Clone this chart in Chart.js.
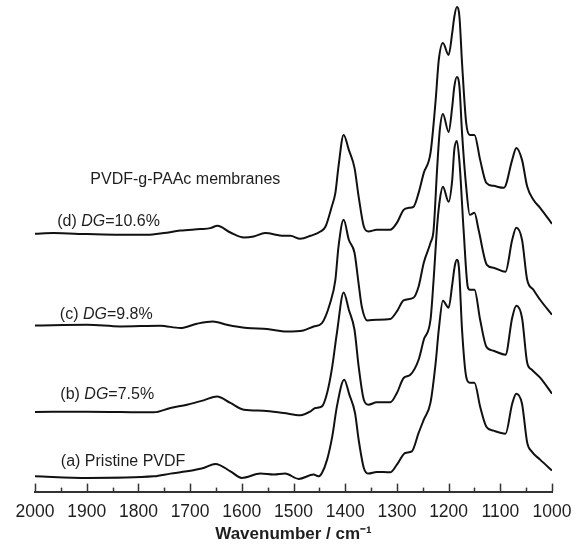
<!DOCTYPE html>
<html>
<head>
<meta charset="utf-8">
<style>
  html, body { margin: 0; padding: 0; background: #ffffff; }
  #wrap { width: 584px; height: 545px; }
</style>
<script src="https://cdn.jsdelivr.net/npm/chart.js@4.4.1/dist/chart.umd.min.js"></script>
</head>
<body>
<div id="wrap"><canvas id="c" width="584" height="545"></canvas></div>
<script>
// ---- Data (wavenumber in cm^-1, absorbance as plotted with vertical offsets, a.u.) ----
const seriesNames = ['(d) DG=10.6%', '(c) DG=9.8%', '(b) DG=7.5%', '(a) Pristine PVDF'];

const waveD = [2000,1964,1899,1835,1783,1751,1719,1680,1661,1647,1622,1596,1577,1555,1519,1506,1487,1467,1448,1438,1426,1419,1413,1403,1393,1382,1374,1364,1355,1339,1313,1300,1287,1277,1268,1258,1248,1235,1225,1219,1211,1200,1193,1189,1184,1179,1174,1166,1159,1150,1139,1127,1113,1093,1077,1069,1058,1048,1036,1023,1000];
const absD  = [2.58,2.587,2.577,2.57,2.57,2.587,2.613,2.627,2.637,2.66,2.593,2.543,2.553,2.587,2.56,2.56,2.53,2.56,2.603,2.653,2.853,2.99,3.253,3.57,3.42,3.24,2.953,2.653,2.603,2.62,2.62,2.69,2.82,2.84,2.85,2.99,3.19,3.39,3.92,4.32,4.49,4.37,4.59,4.75,4.85,4.75,4.29,3.69,3.57,3.57,3.32,3.09,3.06,3.04,3.32,3.44,3.32,3.053,2.92,2.84,2.68];

const waveC = [2000,1899,1835,1758,1719,1687,1656,1629,1590,1551,1513,1481,1461,1445,1429,1419,1413,1403,1393,1382,1375,1368,1357,1339,1313,1300,1287,1268,1258,1248,1235,1229,1222,1217,1211,1200,1193,1189,1184,1179,1174,1166,1159,1150,1142,1126,1113,1090,1077,1069,1058,1048,1036,1023,1000];
const absC  = [1.663,1.67,1.653,1.66,1.637,1.68,1.703,1.67,1.637,1.627,1.603,1.613,1.653,1.687,1.89,2.12,2.45,2.72,2.52,2.39,2.12,1.853,1.713,1.72,1.727,1.803,1.913,1.94,2.053,2.29,2.49,2.62,3.25,3.62,3.78,3.60,3.85,4.05,4.15,4.05,3.59,3.05,2.77,2.79,2.62,2.27,2.24,2.20,2.52,2.64,2.52,2.12,2.02,1.92,1.77];

const waveB = [2000,1899,1770,1738,1706,1674,1648,1622,1596,1558,1519,1487,1467,1458,1445,1435,1426,1416,1403,1393,1382,1374,1364,1355,1339,1313,1300,1287,1274,1258,1248,1235,1229,1222,1217,1211,1200,1193,1189,1184,1179,1171,1163,1159,1150,1139,1127,1113,1090,1077,1069,1058,1048,1039,1023,1000];
const absB  = [0.797,0.80,0.793,0.837,0.87,0.913,0.953,0.887,0.82,0.81,0.787,0.765,0.803,0.837,0.853,0.987,1.22,1.59,1.993,1.82,1.62,1.253,0.92,0.87,0.893,0.893,0.987,1.137,1.17,1.32,1.52,1.72,2.12,2.67,2.92,3.05,2.90,3.12,3.42,3.51,3.30,2.62,2.05,2.02,2.02,1.72,1.45,1.41,1.37,1.74,1.86,1.74,1.29,1.22,1.14,0.98];

const waveA = [2000,1899,1770,1738,1706,1674,1651,1622,1600,1564,1538,1516,1490,1461,1452,1445,1435,1425,1416,1402,1392,1381,1374,1364,1355,1339,1313,1300,1284,1271,1258,1248,1235,1225,1219,1211,1200,1193,1188,1184,1180,1174,1166,1159,1150,1139,1127,1113,1090,1077,1069,1058,1048,1039,1023,1000];
const absA  = [0.153,0.137,0.153,0.18,0.203,0.237,0.277,0.203,0.137,0.18,0.17,0.18,0.127,0.17,0.153,0.187,0.32,0.553,0.853,1.12,0.97,0.787,0.52,0.237,0.18,0.197,0.193,0.27,0.387,0.403,0.587,0.72,0.89,1.29,1.62,1.91,1.84,2.07,2.26,2.32,2.24,1.62,1.15,1.09,1.09,0.85,0.65,0.61,0.58,0.88,0.98,0.88,0.49,0.40,0.32,0.21];

const xTicks = [2000,1900,1800,1700,1600,1500,1400,1300,1200,1100,1000];
const xTitle = 'Wavenumber / cm\u207B\u00B9';
const headerText = 'PVDF-g-PAAc membranes';

// label anchors (wavenumber, absorbance) for annotation text
const labelWave = [1957, 1952, 1951, 1950];
const labelAbs  = [2.70, 1.775, 0.97, 0.297];
const headerWave = 1893, headerAbs = 3.12;

function pts(w, a) { return w.map((x, i) => ({ x: x, y: a[i] })); }

const FONT = '"Liberation Sans", Arial, Helvetica, sans-serif';

const annotPlugin = {
  id: 'annot',
  afterDraw(chart) {
    const ctx = chart.ctx;
    const xs = chart.scales.x, ys = chart.scales.y;
    // inward tick marks on x axis
    const yAxis = chart.chartArea.bottom;
    ctx.save();
    ctx.strokeStyle = '#333';
    ctx.lineWidth = 1.5;
    for (let v = 1000; v <= 2000; v += 50) {
      const px = Math.round(xs.getPixelForValue(v)) + 0.5;
      const len = (v % 100 === 0) ? 8 : 4;
      ctx.beginPath();
      ctx.moveTo(px, yAxis);
      ctx.lineTo(px, yAxis - len);
      ctx.stroke();
    }
    ctx.restore();

    // text labels
    ctx.save();
    ctx.fillStyle = '#1e1e1e';
    ctx.textBaseline = 'middle';
    ctx.textAlign = 'left';
    const normal = '16px ' + FONT, italic = 'italic 16px ' + FONT;
    seriesNames.forEach((name, i) => {
      let x = xs.getPixelForValue(labelWave[i]);
      const y = ys.getPixelForValue(labelAbs[i]);
      const m = name.match(/^(\(\w\) )DG(.*)$/);
      if (m) {
        const parts = [[m[1], normal], ['DG', italic], [m[2], normal]];
        parts.forEach(([t, f]) => {
          ctx.font = f;
          ctx.fillText(t, x, y);
          x += ctx.measureText(t).width;
        });
      } else {
        ctx.font = normal;
        ctx.fillText(name, x, y);
      }
    });
    ctx.font = normal;
    ctx.fillText(headerText, xs.getPixelForValue(headerWave), ys.getPixelForValue(headerAbs));
    ctx.restore();
  }
};

const lineStyle = {
  borderColor: '#111',
  borderWidth: 2,
  pointRadius: 0,
  fill: false,
  cubicInterpolationMode: 'monotone'
};

new Chart(document.getElementById('c'), {
  type: 'line',
  data: {
    datasets: [
      Object.assign({ label: seriesNames[0], data: pts(waveD, absD) }, lineStyle),
      Object.assign({ label: seriesNames[1], data: pts(waveC, absC) }, lineStyle),
      Object.assign({ label: seriesNames[2], data: pts(waveB, absB) }, lineStyle),
      Object.assign({ label: seriesNames[3], data: pts(waveA, absA) }, lineStyle)
    ]
  },
  options: {
    responsive: false,
    animation: false,
    events: [],
    layout: { padding: { left: 35, right: 32, top: 0, bottom: 0 } },
    plugins: { legend: { display: false }, tooltip: { enabled: false } },
    scales: {
      x: {
        type: 'linear',
        reverse: true,
        min: 1000,
        max: 2000,
        afterBuildTicks: (s) => { s.ticks = xTicks.map(v => ({ value: v })); },
        ticks: {
          font: { family: FONT, size: 17.5 },
          color: '#1e1e1e',
          padding: 10,
          maxRotation: 0,
          autoSkip: false,
          callback: (v) => String(v)
        },
        grid: { display: false, drawTicks: false, tickLength: 0 },
        border: { display: true, color: '#333', width: 2 },
        title: {
          display: true,
          text: xTitle,
          font: { family: FONT, size: 17, weight: 'bold' },
          color: '#1e1e1e',
          padding: { top: -8, bottom: 0 }
        }
      },
      y: {
        display: false,
        min: 0,
        max: 4.92
      }
    }
  },
  plugins: [annotPlugin]
});
</script>
</body>
</html>
